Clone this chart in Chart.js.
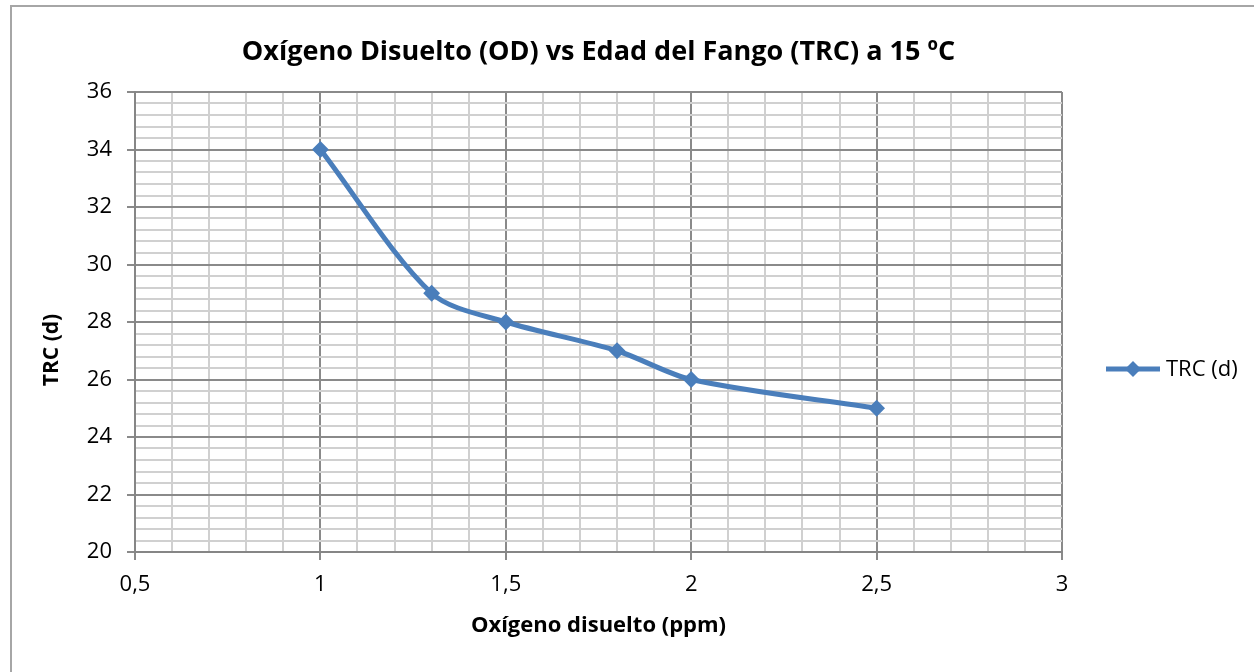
<!DOCTYPE html>
<html>
<head>
<meta charset="utf-8">
<script src="https://cdn.jsdelivr.net/npm/chart.js@4.4.1/dist/chart.umd.min.js"></script>
<style>
  html, body { margin: 0; padding: 0; background: #fff; overflow: hidden; }
  #frame { position: absolute; left: 10px; top: 5px; width: 1300px; height: 700px; border: 2px solid #a6a6a6; }
  #chart { position: absolute; left: 0; top: 0; }
</style>
</head>
<body>
<div id="frame"></div>
<canvas id="chart" width="1254" height="672"></canvas>
<script>
// data
const oxygen = [1, 1.3, 1.5, 1.8, 2, 2.5];
const trc = [34, 29, 28, 27, 26, 25];
const seriesName = 'TRC (d)';
const yTitle = 'TRC (d)';

// axis ranges: [min, max, major step, minor step]
const xAxis = [0.5, 3, 0.5, 0.1];
const yAxis = [20, 36, 2, 0.4];

const blue = '#4a7ebb';
const font = '"Open Sans", "Liberation Sans", sans-serif';

function isMajor(v, step) {
  return Math.abs(v / step - Math.round(v / step)) < 1e-6;
}

// y title sits a bit below the middle in the original, so draw it here
const yTitlePlugin = {
  id: 'yTitle',
  afterDraw(chart) {
    const ctx = chart.ctx;
    const a = chart.chartArea;
    ctx.save();
    ctx.translate(a.left - 83, (a.top + a.bottom) / 2 + 28);
    ctx.rotate(-Math.PI / 2);
    ctx.fillStyle = '#000';
    ctx.font = 'bold 21px ' + font;
    ctx.textAlign = 'center';
    ctx.textBaseline = 'middle';
    ctx.fillText(yTitle, 0, 0);
    ctx.restore();
  }
};

// Excel-style legend: line with diamond, on the right
const legendLine = {
  id: 'legendLine',
  afterDraw(chart) {
    const ctx = chart.ctx;
    const ds = chart.data.datasets[0];
    const x = chart.chartArea.right + 44;
    const y = 369;
    ctx.save();
    ctx.strokeStyle = ds.borderColor;
    ctx.lineWidth = ds.borderWidth;
    ctx.beginPath();
    ctx.moveTo(x, y);
    ctx.lineTo(x + 54, y);
    ctx.stroke();
    ctx.fillStyle = ds.borderColor;
    ctx.beginPath();
    ctx.moveTo(x + 27, y - 8);
    ctx.lineTo(x + 35, y);
    ctx.lineTo(x + 27, y + 8);
    ctx.lineTo(x + 19, y);
    ctx.closePath();
    ctx.fill();
    ctx.fillStyle = '#000';
    ctx.font = '22px ' + font;
    ctx.textBaseline = 'middle';
    ctx.fillText(ds.label, x + 60, y + 1);
    ctx.restore();
  }
};

new Chart(document.getElementById('chart'), {
  type: 'line',
  data: {
    datasets: [{
      label: seriesName,
      data: oxygen.map((x, i) => ({ x: x, y: trc[i] })),
      borderColor: blue,
      backgroundColor: blue,
      borderWidth: 5,
      tension: 0.3,
      pointStyle: 'rectRot',
      pointRadius: 7,
      pointBorderWidth: 2,
      pointBackgroundColor: blue,
      pointBorderColor: blue
    }]
  },
  options: {
    responsive: false,
    animation: false,
    layout: { padding: { left: 36, right: 192, top: 10, bottom: 30 } },
    plugins: {
      legend: { display: false },
      tooltip: { enabled: false },
      title: {
        display: true,
        fullSize: false,
        text: 'Oxígeno Disuelto (OD) vs Edad del Fango (TRC) a 15 ºC',
        color: '#000',
        font: { family: font, size: 27, weight: 'bold', lineHeight: 1.2 },
        padding: { top: 26, bottom: 23.6 }
      }
    },
    scales: {
      x: {
        type: 'linear',
        min: xAxis[0],
        max: xAxis[1],
        afterFit(scale) { scale.height = 90; },
        ticks: {
          stepSize: xAxis[3],
          maxTicksLimit: 100,
          autoSkip: false,
          maxRotation: 0,
          padding: 12,
          color: '#000',
          font: { family: font, size: 22 },
          callback: v => isMajor(v, xAxis[2]) ? String(+v.toFixed(1)).replace('.', ',') : ''
        },
        grid: {
          color: c => isMajor(c.tick.value, xAxis[2]) ? '#8a8a8a' : '#d0d0d0',
          lineWidth: 2,
          tickLength: 8,
          tickColor: c => isMajor(c.tick.value, xAxis[2]) ? '#8a8a8a' : 'rgba(0,0,0,0)'
        },
        border: { color: '#868686', width: 2 },
        title: {
          display: true,
          text: 'Oxígeno disuelto (ppm)',
          color: '#000',
          font: { family: font, size: 22, weight: 'bold', lineHeight: 1.2 },
          padding: { top: 4, bottom: 3 }
        }
      },
      y: {
        min: yAxis[0],
        max: yAxis[1],
        afterFit(scale) { scale.width = 99; },
        ticks: {
          stepSize: yAxis[3],
          maxTicksLimit: 100,
          autoSkip: false,
          padding: 15,
          color: '#000',
          font: { family: font, size: 22 },
          callback: v => isMajor(v, yAxis[2]) ? String(Math.round(v)) : ''
        },
        grid: {
          color: c => isMajor(c.tick.value, yAxis[2]) ? '#8a8a8a' : '#d0d0d0',
          lineWidth: 2,
          tickLength: 8,
          tickColor: c => isMajor(c.tick.value, yAxis[2]) ? '#8a8a8a' : 'rgba(0,0,0,0)'
        },
        border: { color: '#868686', width: 2 }
      }
    }
  },
  plugins: [yTitlePlugin, legendLine]
});
</script>
</body>
</html>
